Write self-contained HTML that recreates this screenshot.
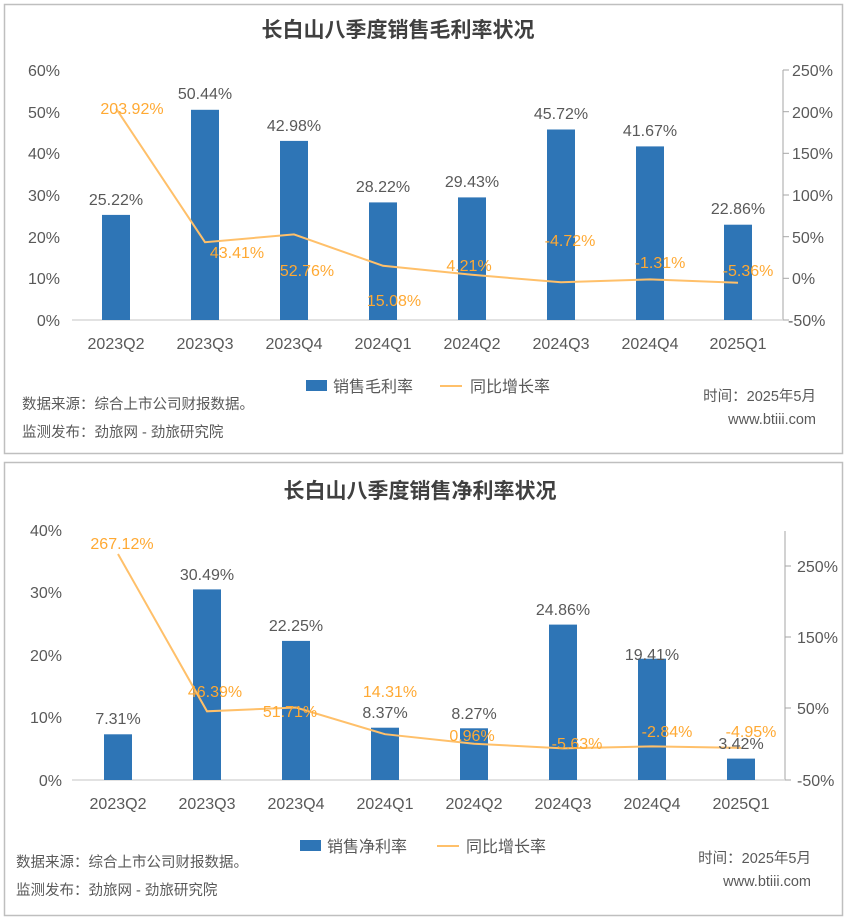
<!DOCTYPE html>
<html><head><meta charset="utf-8"><style>
body{margin:0;background:#fff}
svg{display:block;font-family:"Liberation Sans","Noto Sans CJK SC",sans-serif}
.t{fill:#595959;font-size:16px}
.o{fill:#FFA933;font-size:16px}
.tt{fill:#404040;font-size:21px;font-weight:bold}
.f{fill:#595959;font-size:14.5px}
</style></head><body>
<svg width="850" height="924" viewBox="0 0 850 924">
<rect x="4.5" y="4.5" width="838" height="449" fill="#fff" stroke="#bfbfbf" stroke-width="1.5"/>
<rect x="4.5" y="462.5" width="838" height="453" fill="#fff" stroke="#bfbfbf" stroke-width="1.5"/>

<!-- Chart 1 -->
<text x="398" y="37" text-anchor="middle" class="tt">长白山八季度销售毛利率状况</text>
<g class="t" text-anchor="end">
<text x="60" y="76">60%</text><text x="60" y="118">50%</text><text x="60" y="159">40%</text><text x="60" y="201">30%</text><text x="60" y="243">20%</text><text x="60" y="284">10%</text><text x="60" y="326">0%</text>
</g>
<line x1="783" y1="70" x2="783" y2="320" stroke="#a6a6a6"/>
<g stroke="#a6a6a6"><line x1="783" y1="70" x2="789" y2="70"/><line x1="783" y1="111.7" x2="789" y2="111.7"/><line x1="783" y1="153.3" x2="789" y2="153.3"/><line x1="783" y1="195" x2="789" y2="195"/><line x1="783" y1="236.7" x2="789" y2="236.7"/><line x1="783" y1="278.3" x2="789" y2="278.3"/><line x1="783" y1="320" x2="789" y2="320"/></g>
<g class="t">
<text x="792" y="76">250%</text><text x="792" y="118">200%</text><text x="792" y="159">150%</text><text x="792" y="201">100%</text><text x="792" y="243">50%</text><text x="792" y="284">0%</text><text x="788" y="326">-50%</text>
</g>
<line x1="72" y1="320" x2="783" y2="320" stroke="#d9d9d9" stroke-width="1.5"/>
<g fill="#2E75B6">
<rect x="102" y="214.9" width="28" height="105.1"/><rect x="191" y="109.8" width="28" height="210.2"/><rect x="280" y="140.9" width="28" height="179.1"/><rect x="369" y="202.4" width="28" height="117.6"/><rect x="458" y="197.4" width="28" height="122.6"/><rect x="547" y="129.5" width="28" height="190.5"/><rect x="636" y="146.4" width="28" height="173.6"/><rect x="724" y="224.7" width="28" height="95.3"/>
</g>
<polyline fill="none" stroke="#FFC06A" stroke-width="2" points="116,108.4 205,242.2 294,234.4 383,265.8 472,274.8 561,282.3 650,279.4 738,282.8"/>
<g class="t" text-anchor="middle">
<text x="116" y="205">25.22%</text><text x="205" y="99">50.44%</text><text x="294" y="131">42.98%</text><text x="383" y="192">28.22%</text><text x="472" y="187">29.43%</text><text x="561" y="119">45.72%</text><text x="650" y="136">41.67%</text><text x="738" y="214">22.86%</text>
</g>
<g class="o" text-anchor="middle">
<text x="132" y="114">203.92%</text><text x="237" y="258">43.41%</text><text x="307" y="276">52.76%</text><text x="394" y="306">15.08%</text><text x="469" y="271">4.21%</text><text x="570" y="246">-4.72%</text><text x="660" y="268">-1.31%</text><text x="748" y="276">-5.36%</text>
</g>
<g class="t" text-anchor="middle">
<text x="116" y="349">2023Q2</text><text x="205" y="349">2023Q3</text><text x="294" y="349">2023Q4</text><text x="383" y="349">2024Q1</text><text x="472" y="349">2024Q2</text><text x="561" y="349">2024Q3</text><text x="650" y="349">2024Q4</text><text x="738" y="349">2025Q1</text>
</g>
<rect x="306" y="380" width="21" height="11" fill="#2E75B6"/><text x="333" y="392" class="t">销售毛利率</text>
<line x1="440" y1="386" x2="462" y2="386" stroke="#FFC06A" stroke-width="2"/><text x="470" y="392" class="t">同比增长率</text>
<text x="22" y="409" class="f">数据来源：综合上市公司财报数据。</text>
<text x="22" y="437" class="f">监测发布：劲旅网 - 劲旅研究院</text>
<text x="816" y="401" class="f" text-anchor="end">时间：2025年5月</text>
<text x="816" y="424" class="f" text-anchor="end">www.btiii.com</text>

<!-- Chart 2 -->
<text x="420" y="498" text-anchor="middle" class="tt">长白山八季度销售净利率状况</text>
<g class="t" text-anchor="end">
<text x="62" y="536">40%</text><text x="62" y="598">30%</text><text x="62" y="661">20%</text><text x="62" y="723">10%</text><text x="62" y="786">0%</text>
</g>
<line x1="785" y1="531" x2="785" y2="780" stroke="#a6a6a6"/>
<g stroke="#a6a6a6"><line x1="785" y1="566" x2="791" y2="566"/><line x1="785" y1="637" x2="791" y2="637"/><line x1="785" y1="708" x2="791" y2="708"/><line x1="785" y1="780" x2="791" y2="780"/></g>
<g class="t">
<text x="797" y="572">250%</text><text x="797" y="643">150%</text><text x="797" y="714">50%</text><text x="797" y="786">-50%</text>
</g>
<line x1="72" y1="780" x2="785" y2="780" stroke="#d9d9d9" stroke-width="1.5"/>
<g fill="#2E75B6">
<rect x="104" y="734.3" width="28" height="45.7"/><rect x="193" y="589.4" width="28" height="190.6"/><rect x="282" y="640.9" width="28" height="139.1"/><rect x="371" y="727.7" width="28" height="52.3"/><rect x="460" y="728.3" width="28" height="51.7"/><rect x="549" y="624.6" width="28" height="155.4"/><rect x="638" y="658.7" width="28" height="121.3"/><rect x="727" y="758.6" width="28" height="21.4"/>
</g>
<polyline fill="none" stroke="#FFC06A" stroke-width="2" points="118,554 207,711.3 296,707.5 385,734.2 474,743.7 563,748.4 652,746.4 741,747.9"/>
<g class="t" text-anchor="middle">
<text x="118" y="724">7.31%</text><text x="207" y="580">30.49%</text><text x="296" y="631">22.25%</text><text x="385" y="718">8.37%</text><text x="474" y="719">8.27%</text><text x="563" y="615">24.86%</text><text x="652" y="660">19.41%</text><text x="741" y="749">3.42%</text>
</g>
<g class="o" text-anchor="middle">
<text x="122" y="549">267.12%</text><text x="215" y="697">46.39%</text><text x="290" y="717">51.71%</text><text x="390" y="697">14.31%</text><text x="472" y="741">0.96%</text><text x="577" y="749">-5.63%</text><text x="667" y="737">-2.84%</text><text x="751" y="737">-4.95%</text>
</g>
<g class="t" text-anchor="middle">
<text x="118" y="809">2023Q2</text><text x="207" y="809">2023Q3</text><text x="296" y="809">2023Q4</text><text x="385" y="809">2024Q1</text><text x="474" y="809">2024Q2</text><text x="563" y="809">2024Q3</text><text x="652" y="809">2024Q4</text><text x="741" y="809">2025Q1</text>
</g>
<rect x="300" y="840" width="21" height="11" fill="#2E75B6"/><text x="327" y="852" class="t">销售净利率</text>
<line x1="437" y1="846" x2="459" y2="846" stroke="#FFC06A" stroke-width="2"/><text x="466" y="852" class="t">同比增长率</text>
<text x="16" y="867" class="f">数据来源：综合上市公司财报数据。</text>
<text x="16" y="895" class="f">监测发布：劲旅网 - 劲旅研究院</text>
<text x="811" y="863" class="f" text-anchor="end">时间：2025年5月</text>
<text x="811" y="886" class="f" text-anchor="end">www.btiii.com</text>
</svg>
</body></html>
